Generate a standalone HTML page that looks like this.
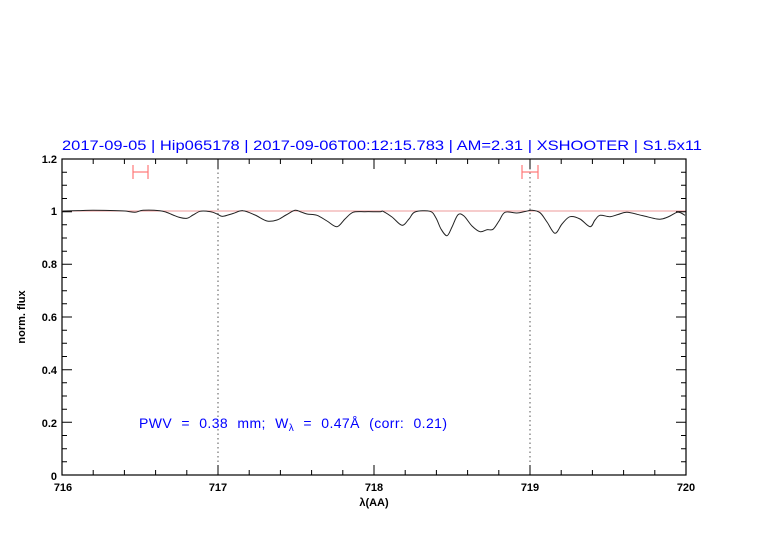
<!DOCTYPE html>
<html><head><meta charset="utf-8"><style>
html,body{margin:0;padding:0;background:#fff;}
svg{display:block;font-family:"Liberation Sans",sans-serif;}
</style></head><body>
<svg width="782" height="542" viewBox="0 0 782 542" xmlns="http://www.w3.org/2000/svg">
<rect width="782" height="542" fill="#fff"/>
<text x="62" y="150" fill="#0000ff" font-size="14" textLength="640" lengthAdjust="spacingAndGlyphs">2017-09-05 | Hip065178 | 2017-09-06T00:12:15.783 | AM=2.31 | XSHOOTER | S1.5x11</text>
<line x1="62" y1="211" x2="686" y2="211" stroke="#e99" stroke-width="1"/>
<line x1="218" y1="159" x2="218" y2="475" stroke="#555" stroke-dasharray="1.5,3"/>
<line x1="530" y1="159" x2="530" y2="475" stroke="#555" stroke-dasharray="1.5,3"/>
<g stroke="#f77" stroke-width="1.2" fill="none">
<line x1="133" y1="172" x2="148" y2="172"/><line x1="133" y1="165" x2="133" y2="179"/><line x1="148" y1="165" x2="148" y2="179"/>
<line x1="522" y1="172" x2="538" y2="172"/><line x1="522" y1="165" x2="522" y2="179"/><line x1="538" y1="165" x2="538" y2="179"/>
</g>
<path id="spec" fill="none" stroke="#222" stroke-width="1" d=""/>
<rect x="62" y="159" width="624" height="316" fill="none" stroke="#000" stroke-width="1.2"/>
<g stroke="#000" stroke-width="1">
<path d="M62,475v-10M93.2,475v-5M124.4,475v-5M155.6,475v-5M186.8,475v-5M218,475v-10M249.2,475v-5M280.4,475v-5M311.6,475v-5M342.8,475v-5M374,475v-10M405.2,475v-5M436.4,475v-5M467.6,475v-5M498.8,475v-5M530,475v-10M561.2,475v-5M592.4,475v-5M623.6,475v-5M654.8,475v-5M686,475v-10
M62,159v10M93.2,159v5M124.4,159v5M155.6,159v5M186.8,159v5M218,159v10M249.2,159v5M280.4,159v5M311.6,159v5M342.8,159v5M374,159v10M405.2,159v5M436.4,159v5M467.6,159v5M498.8,159v5M530,159v10M561.2,159v5M592.4,159v5M623.6,159v5M654.8,159v5M686,159v10"/>
<path d="M62,475h10M62,461.8h5M62,448.7h5M62,435.5h5M62,422.3h10M62,409.2h5M62,396h5M62,382.8h5M62,369.7h10M62,356.5h5M62,343.3h5M62,330.2h5M62,317h10M62,303.8h5M62,290.7h5M62,277.5h5M62,264.3h10M62,251.2h5M62,238h5M62,224.8h5M62,211.7h10M62,198.5h5M62,185.3h5M62,172.2h5M62,159h10
M686,475h-10M686,461.8h-5M686,448.7h-5M686,435.5h-5M686,422.3h-10M686,409.2h-5M686,396h-5M686,382.8h-5M686,369.7h-10M686,356.5h-5M686,343.3h-5M686,330.2h-5M686,317h-10M686,303.8h-5M686,290.7h-5M686,277.5h-5M686,264.3h-10M686,251.2h-5M686,238h-5M686,224.8h-5M686,211.7h-10M686,198.5h-5M686,185.3h-5M686,172.2h-5M686,159h-10"/>
</g>
<g font-size="11" fill="#000" text-anchor="end" font-weight="bold">
<text x="57" y="480">0</text><text x="57" y="427">0.2</text><text x="57" y="374">0.4</text><text x="57" y="321">0.6</text><text x="57" y="268">0.8</text><text x="57" y="215">1</text><text x="57" y="163">1.2</text>
</g>
<g font-size="11" fill="#000" text-anchor="middle" font-weight="bold">
<text x="63" y="491">716</text><text x="218" y="491">717</text><text x="374" y="491">718</text><text x="530" y="491">719</text><text x="686" y="491">720</text>
<text x="374" y="506">λ(AA)</text>
</g>
<text x="0" y="0" font-size="11" fill="#000" text-anchor="middle" font-weight="bold" transform="translate(25,317) rotate(-90)">norm. flux</text>
<text x="139" y="428" fill="#0000ff" font-size="14" word-spacing="5" letter-spacing="0.4">PWV = 0.38 mm; W<tspan font-size="10" dy="3">λ</tspan><tspan dy="-3"> = 0.47Å (corr: 0.21)</tspan></text>
</svg>
<script>
var p=[[63,211],[78,210.6],[93,210.3],[110,210.5],[125,211],[135,212.3],[143,210.3],[160,210.7],[167,212.5],[173,215],[180,217.5],[187,218.3],[193,215],[200,211.3],[207,211.2],[213,212.3],[218,214.5],[223,216.3],[233,213.5],[243,210.7],[255,215],[267,221],[277,220],[286,215],[295,210.3],[301,212],[307,214],[317,215.3],[327,221],[337,226.7],[345,219],[353,212.3],[365,211.7],[380,211.7],[383,211.3],[392,217],[402,225.3],[409,219],[415,212],[430,211.3],[436,218],[441,229],[447,235.7],[452,227],[458,214.7],[464,216],[472,226],[480,231.7],[487,229.7],[493,229.3],[499,221],[505,212.3],[517,213],[525,211.5],[532,210.3],[540,212.7],[547,222],[555,233.3],[562,224],[570,216.7],[580,219],[590,226.7],[595,220],[600,215.3],[610,216.7],[618,214.5],[627,212.3],[642,215.5],[657,219],[663,218.7],[670,216],[677,212.3],[681,213],[685,215.3]];
var d="M"+p[0][0]+","+p[0][1];
for(var i=0;i<p.length-1;i++){var a=p[i>0?i-1:i],b=p[i],c=p[i+1],e=p[i+2<p.length?i+2:i+1];
d+="C"+(b[0]+(c[0]-a[0])/6).toFixed(1)+","+(b[1]+(c[1]-a[1])/6).toFixed(1)+" "+(c[0]-(e[0]-b[0])/6).toFixed(1)+","+(c[1]-(e[1]-b[1])/6).toFixed(1)+" "+c[0]+","+c[1];}
document.getElementById("spec").setAttribute("d",d);
</script>
</body></html>
